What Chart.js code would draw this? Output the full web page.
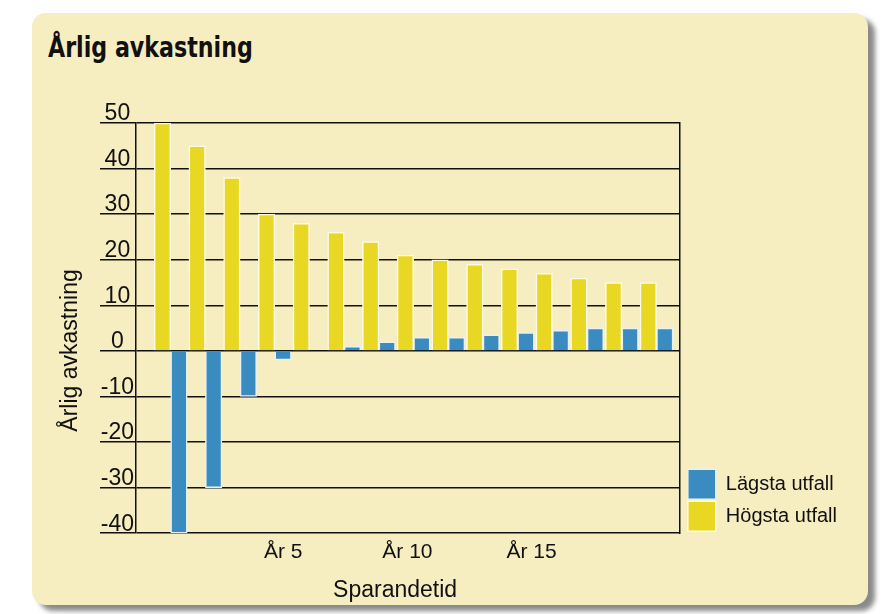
<!DOCTYPE html>
<html lang="sv">
<head>
<meta charset="UTF-8">
<title>Årlig avkastning</title>
<script src="https://cdn.jsdelivr.net/npm/chart.js"></script>
<style>
    body { margin: 0; background: #fff; width: 895px; height: 614px; position: relative; overflow: hidden; }
    .panel {
        position: absolute; left: 32px; top: 13px; width: 836px; height: 592px;
        background: #f6edc1; border-radius: 14px;
        box-shadow: 7px 6px 5px #8a8a8a;
    }
    .titel {
        position: absolute; left: 48px; top: 33px; margin: 0;
        font: bold 29px/29px "DejaVu Sans Condensed", sans-serif;
        color: #111;
        transform: scaleX(0.85);
        transform-origin: left top;
        white-space: nowrap;
    }
    .graf { position: absolute; left: 0; top: 0; width: 895px; height: 614px; }
</style>
</head>
<body>
<div class="panel"></div>
<h1 class="titel">Årlig avkastning</h1>
<div class="graf"><canvas id="myChart" width="895" height="614"></canvas></div>

<script>
    // sparandetid i år (en stapel per år)
    const ar = [1, 2, 3, 4, 5, 6, 7, 8, 9, 10, 11, 12, 13, 14, 15];
    const hogstaUtfall = [50, 45, 38, 30, 28, 26, 24, 21, 20, 19, 18, 17, 16, 15, 15];
    const lagstaUtfall = [-40, -30, -10, -2, 0, 1, 2, 3, 3, 3.5, 4, 4.5, 5, 5, 5];
    const arEtiketter = [5, 10, 15];
    const yTicks = [50, 40, 30, 20, 10, 0, -10, -20, -30, -40];

    const REG = '"Liberation Sans", Arial, sans-serif';

    Chart.defaults.color = '#111';

    const ctx = document.getElementById('myChart');

    const myChart = new Chart(ctx, {
        type: 'bar',
        data: {
            datasets: [
                {
                    label: 'Högsta utfall',
                    data: hogstaUtfall.map((v, i) => ({ x: ar[i], y: v })),
                    backgroundColor: '#e8d823',
                    borderColor: '#fffbe6',
                    borderWidth: 1.5,
                    barThickness: 16.5
                },
                {
                    label: 'Lägsta utfall',
                    data: lagstaUtfall.map((v, i) => ({ x: ar[i], y: v })),
                    backgroundColor: '#3a8cc0',
                    borderColor: '#e9f1f4',
                    borderWidth: 1.5,
                    barThickness: 16.5
                }
            ]
        },
        options: {
            responsive: false,
            animation: false,
            layout: {
                padding: { top: 123, left: 53, right: 48, bottom: 6 }
            },
            scales: {
                x: {
                    type: 'linear',
                    display: false,
                    offset: false,
                    min: 0,
                    max: 15.67,
                    afterBuildTicks: (s) => { s.ticks = ar.map(v => ({ value: v })); }
                },
                x2: {
                    type: 'linear',
                    position: 'bottom',
                    offset: false,
                    min: -0.93,
                    max: 20.97,
                    afterBuildTicks: (s) => { s.ticks = arEtiketter.map(v => ({ value: v })); },
                    grid: { display: false, drawTicks: false, offset: false },
                    border: { display: false },
                    ticks: {
                        padding: 6,
                        font: { family: REG, size: 21 },
                        callback: (v) => 'År ' + v
                    },
                    title: {
                        display: true,
                        text: 'Sparandetid    ',
                        font: { family: REG, size: 23 },
                        padding: { top: 6, bottom: 4 }
                    }
                },
                y: {
                    min: -40,
                    max: 50,
                    afterBuildTicks: (s) => { s.ticks = yTicks.map(v => ({ value: v })); },
                    afterFit: (s) => { s.width = 83; },
                    grid: {
                        color: '#111',
                        lineWidth: 1.5,
                        tickLength: 36
                    },
                    border: { color: '#111', width: 1.5 },
                    ticks: {
                        crossAlign: 'center',
                        padding: -34,
                        labelOffset: -9,
                        font: { family: REG, size: 23 }
                    },
                    title: {
                        display: true,
                        text: 'Årlig avkastning       ',
                        font: { family: REG, size: 23 },
                        padding: { top: 4, bottom: 4 }
                    }
                },
                y2: {
                    position: 'right',
                    min: -40,
                    max: 50,
                    afterFit: (s) => { s.width = 6; },
                    grid: { drawOnChartArea: false, drawTicks: false },
                    border: { color: '#111', width: 1.5 },
                    ticks: { display: false }
                }
            },
            plugins: {
                legend: {
                    position: 'right',
                    align: 'end',
                    fullSize: false,
                    reverse: true,
                    maxWidth: 200,
                    labels: {
                        boxWidth: 28,
                        boxHeight: 30,
                        padding: 2,
                        font: { family: REG, size: 20 },
                        color: '#111'
                    }
                },
                tooltip: { enabled: false }
            }
        }
    });
</script>
</body>
</html>
